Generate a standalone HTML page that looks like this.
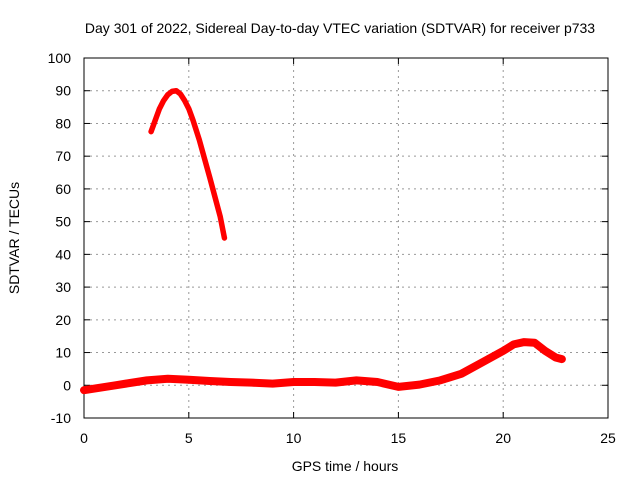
<!DOCTYPE html>
<html><head><meta charset="utf-8"><style>
body{margin:0;background:#fff;}
svg text{font-family:"Liberation Sans",sans-serif;font-size:14px;fill:#000;}
</style></head><body>
<svg width="640" height="480">
<rect width="640" height="480" fill="#fff"/>
<g id="grid"></g>
<rect x="84" y="58" width="524" height="360" fill="none" stroke="#000" stroke-width="1"/>
<g id="ticks"></g>
<g id="series"></g>
<text x="340" y="33" text-anchor="middle">Day 301 of 2022, Sidereal Day-to-day VTEC variation (SDTVAR) for receiver p733</text>
<text x="345" y="471" text-anchor="middle">GPS time / hours</text>
<text transform="translate(19,238) rotate(-90)" text-anchor="middle">SDTVAR / TECUs</text>
</svg>
<script>
const xTicks=[0,5,10,15,20,25];
const yTicks=[-10,0,10,20,30,40,50,60,70,80,90,100];
const lowHours=[0,0.5,1,1.5,2,3,4,5,6,7,8,9,10,11,12,13,14,15,16,17,18,19,20,20.5,21,21.5,22,22.5,22.8];
const lowValues=[-1.5,-1,-0.5,0,0.5,1.5,2,1.7,1.3,1,0.8,0.5,1,1,0.8,1.5,1,-0.5,0.2,1.5,3.5,7,10.5,12.5,13.2,13,10.5,8.5,8];
const highHours=[3.2,3.4,3.6,3.8,4.0,4.2,4.4,4.6,4.8,5.0,5.2,5.5,6.0,6.5,6.7];
const highValues=[77.5,81,84.5,87,88.8,89.8,90,89,87,84.5,81,75,63.5,51.5,45];
const X=v=>84+v*524/25;
const Y=v=>418-(v+10)*360/110;
const NS='http://www.w3.org/2000/svg';
function mk(t,a,p){const e=document.createElementNS(NS,t);for(const k in a)e.setAttribute(k,a[k]);p.appendChild(e);return e;}
const g=document.getElementById('grid'),tk=document.getElementById('ticks'),s=document.getElementById('series');
xTicks.forEach(v=>{
 if(v>0&&v<25){const l=mk('line',{x1:X(v),x2:X(v),y1:58,y2:418,stroke:'#999','stroke-dasharray':'2,4'},g);
 
 }
 const t=mk('text',{x:X(v),y:443,'text-anchor':'middle'},tk);t.textContent=v;
 
 
 mk('line',{x1:X(v),x2:X(v),y1:418,y2:412,stroke:'#000'},tk);
 mk('line',{x1:X(v),x2:X(v),y1:58,y2:64,stroke:'#000'},tk);
});
yTicks.forEach(v=>{
 if(v>-10&&v<100){const l=mk('line',{x1:84,x2:608,y1:Y(v),y2:Y(v),stroke:'#999','stroke-dasharray':'2,4'},g);
 
 }
 const t=mk('text',{x:71,y:Y(v)+5,'text-anchor':'end'},tk);t.textContent=v;
 
 
 mk('line',{x1:84,x2:90,y1:Y(v),y2:Y(v),stroke:'#000'},tk);
 mk('line',{x1:608,x2:602,y1:Y(v),y2:Y(v),stroke:'#000'},tk);
});
function pts(h,v){return h.map((x,i)=>X(x)+','+Y(v[i])).join(' ');}
const low=mk('polyline',{points:pts(lowHours,lowValues),fill:'none',stroke:'#f00','stroke-width':8,'stroke-linejoin':'round','stroke-linecap':'round'},s);


const high=mk('polyline',{points:pts(highHours,highValues),fill:'none',stroke:'#f00','stroke-width':5.5,'stroke-linejoin':'round','stroke-linecap':'round'},s);


</script>
</body></html>
